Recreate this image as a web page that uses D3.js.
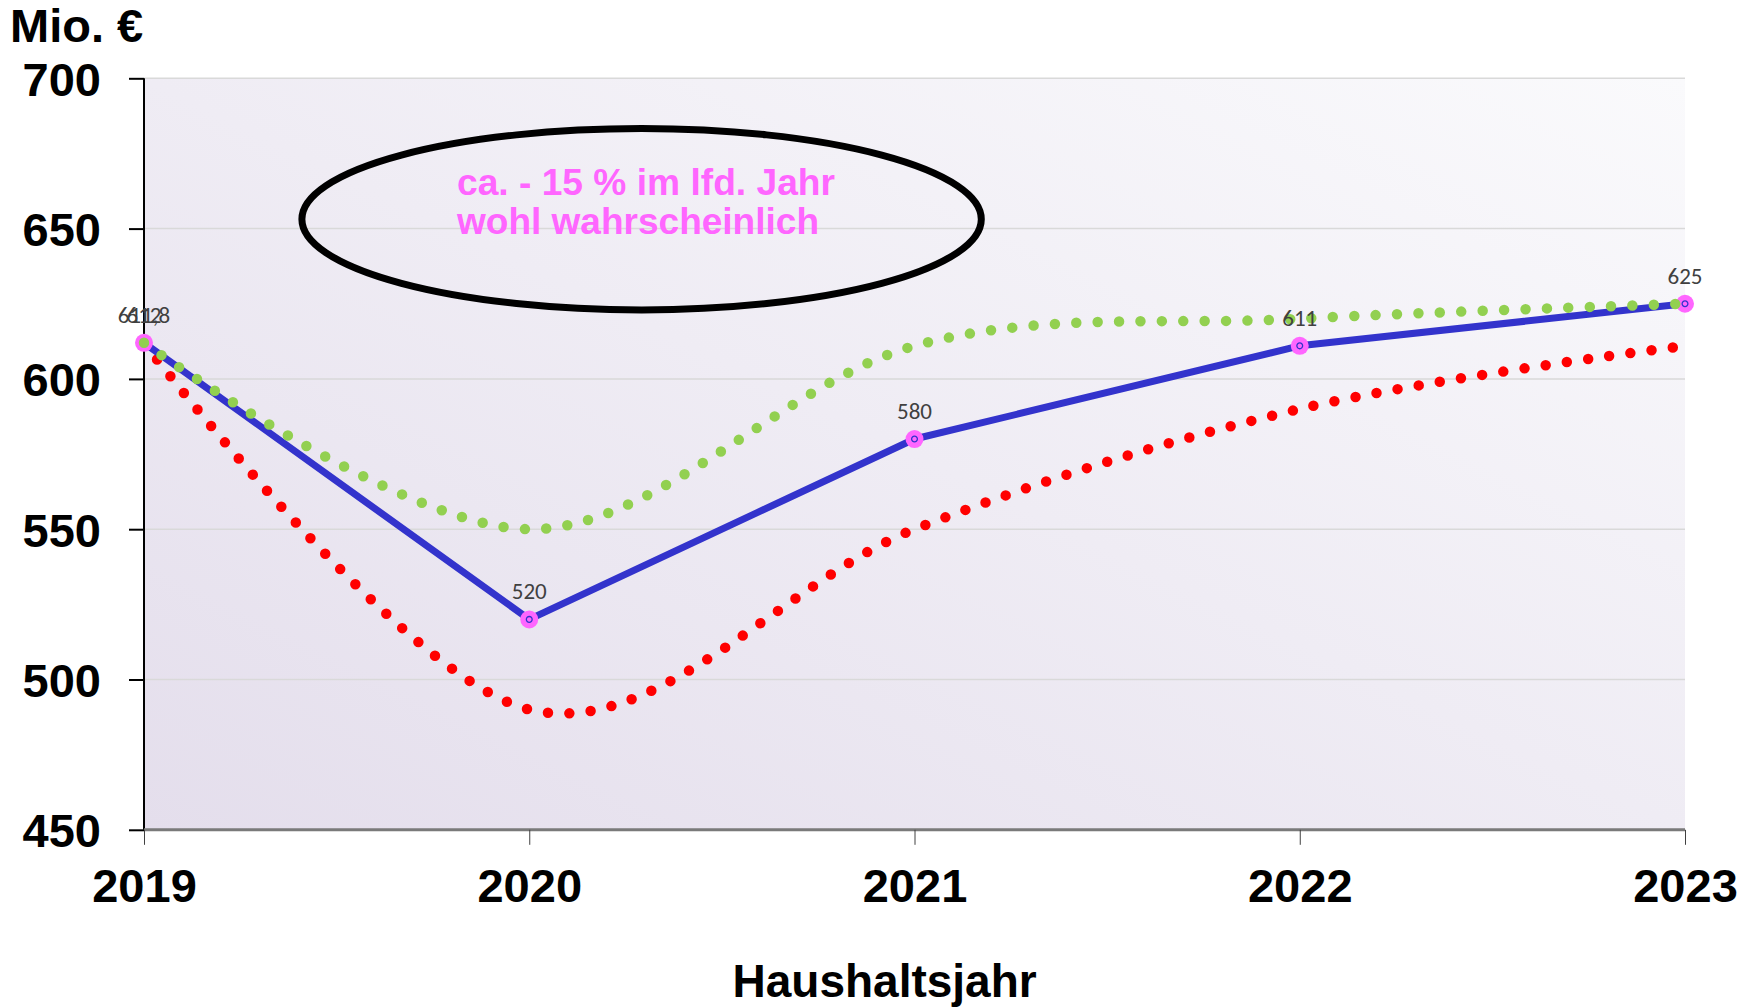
<!DOCTYPE html>
<html>
<head>
<meta charset="utf-8">
<script src="https://cdn.jsdelivr.net/npm/d3@7"></script>
<style>
  html, body { margin: 0; padding: 0; background: #ffffff; }
  svg { display: block; }
</style>
</head>
<body>
<script>
// ---- data ----
const years = ["2019", "2020", "2021", "2022", "2023"];
const actualValues = [612, 520, 580, 611, 625];      // blue line
const optimisticValues = [612, 550, 611, 620, 625];  // green dotted
const pessimisticValues = [612, 490, 550, 590, 611]; // red dotted
const actualLabels = ["612", "520", "580", "611", "625"];
const extraLabelYear = "2019";
const extraLabelText = "611,8";
const extraLabelValue = 612;
const yTicks = [450, 500, 550, 600, 650, 700];
const yUnit = "Mio. €";
const xTitle = "Haushaltsjahr";
const noteLines = ["ca. - 15 % im lfd. Jahr", "wohl wahrscheinlich"];

// ---- layout ----
const W = 1758, H = 1008;
const plot = { left: 144, right: 1685, top: 78.3, bottom: 829.8 };

const svg = d3.select("body").append("svg")
  .attr("width", W).attr("height", H);

const defs = svg.append("defs");
const grad = defs.append("linearGradient")
  .attr("id", "bg").attr("x1", "0%").attr("y1", "100%").attr("x2", "100%").attr("y2", "0%");
grad.append("stop").attr("offset", "0%").attr("stop-color", "#e4deec");
grad.append("stop").attr("offset", "100%").attr("stop-color", "#fafafc");

const x = d3.scalePoint().domain(years).range([plot.left, plot.right]);
const y = d3.scaleLinear().domain([450, 700]).range([plot.bottom, plot.top]);

// background
svg.append("rect")
  .attr("x", plot.left).attr("y", plot.top)
  .attr("width", plot.right - plot.left).attr("height", plot.bottom - plot.top)
  .attr("fill", "url(#bg)");

// gridlines
svg.append("g").selectAll("line").data(yTicks.filter(d => d > 450)).join("line")
  .attr("x1", plot.left).attr("x2", plot.right)
  .attr("y1", d => y(d)).attr("y2", d => y(d))
  .attr("stroke", "#d9d9d9").attr("stroke-width", 1.5);

// y axis
const yAxis = d3.axisLeft(y).tickValues(yTicks).tickSize(15).tickPadding(44).tickFormat(d3.format("d"));
const gy = svg.append("g").attr("transform", `translate(${plot.left},0)`).call(yAxis);
gy.select(".domain").attr("stroke", "#000").attr("stroke-width", 2)
  .attr("d", `M0,${plot.top}V${plot.bottom}`);
gy.selectAll(".tick line").attr("stroke", "#000").attr("stroke-width", 2);
gy.selectAll(".tick text")
  .attr("font-family", "Liberation Sans, Arial, sans-serif")
  .attr("font-weight", "bold").attr("font-size", 47).attr("fill", "#000")
  .attr("x", -43).attr("dy", "0.36em");

// x axis
const xAxis = d3.axisBottom(x).tickSize(15).tickPadding(22);
const gx = svg.append("g").attr("transform", `translate(0,${plot.bottom})`).call(xAxis);
gx.select(".domain").attr("stroke", "#7a7a7a").attr("stroke-width", 3)
  .attr("d", `M${plot.left},0H${plot.right}`);
gx.selectAll(".tick line").attr("stroke", "#404040").attr("stroke-width", 1);
gx.selectAll(".tick text")
  .attr("font-family", "Liberation Sans, Arial, sans-serif")
  .attr("font-weight", "bold").attr("font-size", 47).attr("fill", "#000")
  .attr("y", 0).attr("dy", 72);

// titles
svg.append("text").attr("x", 10).attr("y", 42).text(yUnit)
  .attr("font-family", "Liberation Sans, Arial, sans-serif")
  .attr("font-weight", "bold").attr("font-size", 47).attr("fill", "#000");
svg.append("text").attr("x", 884.6).attr("y", 997).attr("text-anchor", "middle").text(xTitle)
  .attr("font-family", "Liberation Sans, Arial, sans-serif")
  .attr("font-weight", "bold").attr("font-size", 46).attr("fill", "#000");

// lines
const smooth = d3.line().x((d, i) => x(years[i])).y(d => y(d)).curve(d3.curveCardinal.tension(0));
const straight = d3.line().x((d, i) => x(years[i])).y(d => y(d));

svg.append("path").datum(pessimisticValues).attr("d", smooth)
  .attr("fill", "none").attr("stroke", "#ff0000").attr("stroke-width", 10.5)
  .attr("stroke-linecap", "round").attr("stroke-dasharray", "0 21.4");

svg.append("path").datum(actualValues).attr("d", straight)
  .attr("fill", "none").attr("stroke", "#3333cc").attr("stroke-width", 7)
  .attr("stroke-linejoin", "round");

// markers
const mk = svg.append("g").selectAll("g").data(actualValues).join("g")
  .attr("transform", (d, i) => `translate(${x(years[i])},${y(d)})`);
mk.append("circle").attr("r", 9).attr("fill", "#ff66ff");
mk.append("circle").attr("r", 2.9).attr("fill", "#ff66ff").attr("stroke", "#3333cc").attr("stroke-width", 1.3);

svg.append("path").datum(optimisticValues).attr("d", smooth)
  .attr("fill", "none").attr("stroke", "#92d050").attr("stroke-width", 10.5)
  .attr("stroke-linecap", "round").attr("stroke-dasharray", "0 21.4");

// data labels
const lblFont = "Carlito, Calibri, Lato, sans-serif";
svg.append("g").selectAll("text").data(actualValues).join("text")
  .attr("x", (d, i) => x(years[i])).attr("y", d => y(d) - 20)
  .attr("text-anchor", "middle")
  .attr("font-family", lblFont).attr("font-size", 23).attr("fill", "#404040")
  .text((d, i) => actualLabels[i]);
svg.append("text")
  .attr("x", x(extraLabelYear)).attr("y", y(extraLabelValue) - 20)
  .attr("text-anchor", "middle")
  .attr("font-family", lblFont).attr("font-size", 23).attr("fill", "#404040")
  .text(extraLabelText);

// annotation ellipse
svg.append("ellipse").attr("cx", 641.6).attr("cy", 219.2).attr("rx", 339.7).attr("ry", 90.7)
  .attr("fill", "none").attr("stroke", "#000").attr("stroke-width", 7);
const noteWidths = [378, 362];
svg.append("g").selectAll("text").data(noteLines).join("text")
  .attr("x", 457).attr("y", (d, i) => 195 + i * 39)
  .attr("font-family", "Liberation Sans, Arial, sans-serif")
  .attr("font-weight", "bold").attr("font-size", 36).attr("fill", "#ff66ff")
  .attr("textLength", (d, i) => noteWidths[i]).attr("lengthAdjust", "spacingAndGlyphs")
  .text(d => d);
</script>
</body>
</html>
